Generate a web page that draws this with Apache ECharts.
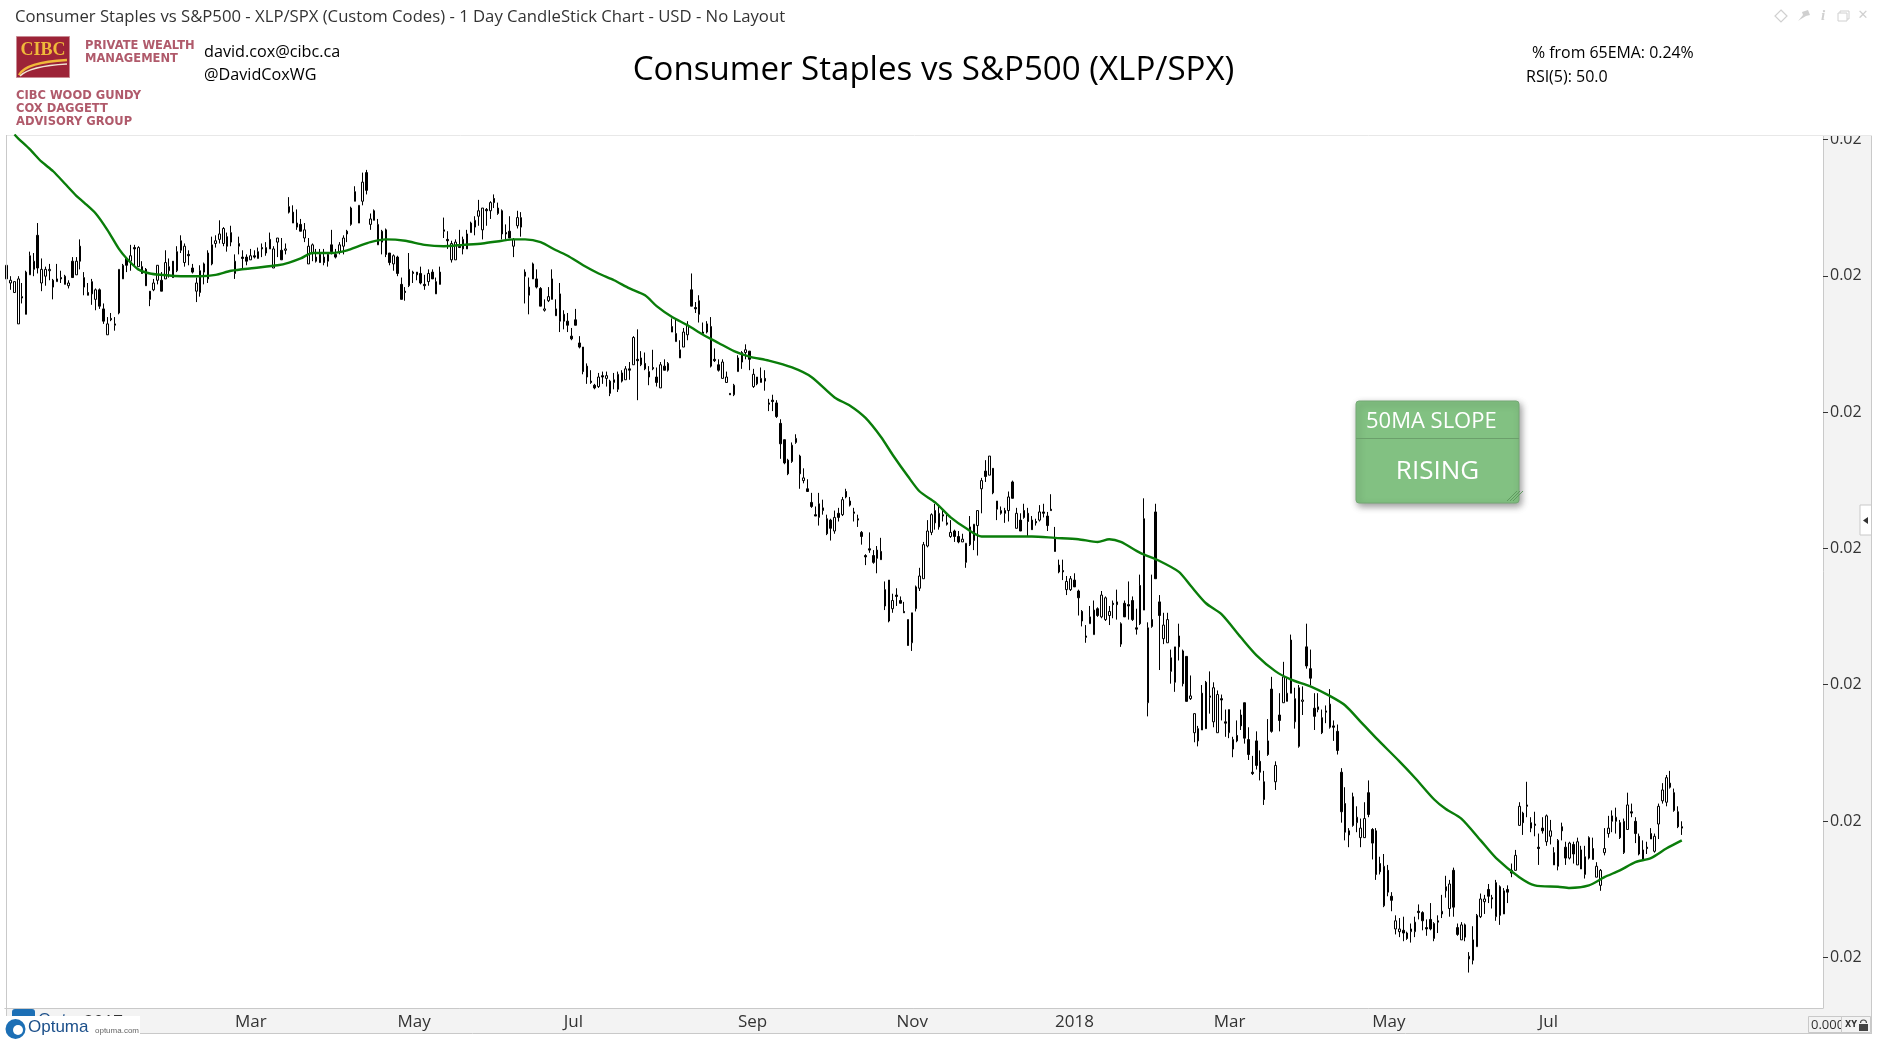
<!DOCTYPE html>
<html>
<head>
<meta charset="utf-8">
<title>Consumer Staples vs S&amp;P500 (XLP/SPX)</title>
<script src="https://cdn.jsdelivr.net/npm/echarts@6/dist/echarts.min.js"></script>
<style>
html, body { margin: 0; padding: 0; background: #fff; }
#chart { width: 1878px; height: 1041px; }
</style>
</head>
<body>
<div id="chart"></div>
<script>
// XLP/SPX ratio, daily bars, stored as ratio x 100000
const opens = [
2296,2293,2286,2263,2283,2270,2299,2303,2328,2293,
2298,2302,2295,2294,2297,2292,2291,2309,2299,2320,
2290,2286,2285,2281,2288,2274,2255,2267,2262,2271,
2296,2311,2309,2319,2305,2305,2303,2287,2288,2295,
2295,2296,2302,2309,2302,2317,2308,2314,2304,2287,
2286,2301,2296,2307,2322,2325,2322,2327,2323,2300,
2320,2312,2312,2310,2313,2311,2319,2315,2325,2304,
2323,2317,2317,2349,2345,2337,2336,2326,2307,2315,
2312,2314,2312,2309,2321,2314,2316,2320,2331,2336,
2360,2337,2353,2374,2336,2346,2321,2323,2332,2315,
2307,2312,2292,2287,2291,2301,2301,2300,2292,2294,
2301,2285,2301,2332,2325,2310,2310,2320,2318,2318,
2330,2334,2342,2332,2347,2346,2355,2344,2346,2330,
2331,2320,2335,2334,2301,2284,2307,2296,2289,2273,
2280,2296,2274,2285,2270,2265,2254,2266,2249,2246,
2232,2221,2218,2217,2225,2223,2212,2220,2215,2227,
2222,2230,2233,2237,2233,2234,2224,2231,2224,2216,
2232,2229,2261,2250,2238,2246,2255,2288,2275,2270,
2257,2263,2261,2237,2233,2223,2220,2212,2211,2228,
2235,2242,2243,2217,2219,2220,2223,2205,2207,2205,
2190,2178,2163,2162,2176,2166,2148,2142,2132,2123,
2121,2126,2120,2119,2111,2124,2123,2140,2130,2125,
2120,2110,2093,2098,2093,2097,2096,2068,2075,2054,
2064,2060,2052,2046,2029,2054,2069,2076,2100,2110,
2126,2114,2123,2117,2107,2111,2107,2103,2088,2101,
2104,2115,2142,2155,2152,2157,2127,2124,2126,2126,
2147,2113,2119,2126,2124,2119,2118,2119,2125,2122,
2127,2106,2086,2082,2068,2068,2075,2067,2052,2034,
2043,2035,2054,2048,2046,2049,2058,2059,2028,2058,
2057,2060,2040,2071,2120,1985,2046,2125,2059,2032,
2029,2008,2000,2026,2023,2019,1988,1963,1957,1992,
2000,1990,1971,1963,1988,1971,1963,1951,1961,1976,
1985,1958,1934,1957,1942,1927,1957,1995,1927,1976,
1985,1986,2031,1971,1953,1986,2026,2010,1981,1980,
1974,1978,1967,1968,1964,1934,1911,1891,1916,1897,
1886,1886,1919,1892,1891,1867,1836,1862,1843,1819,
1817,1818,1816,1817,1817,1832,1831,1820,1826,1812,
1825,1830,1847,1834,1862,1820,1811,1822,1797,1796,
1806,1828,1839,1848,1841,1828,1850,1830,1848,1862,
1862,1895,1904,1910,1893,1896,1879,1893,1883,1887,
1875,1865,1894,1879,1871,1881,1866,1877,1859,1871,
1878,1857,1851,1875,1889,1898,1898,1897,1875,1892,
1905,1898,1887,1877,1879,1889,1876,1896,1913,1912,
1926,1919,1905,1894
];
const closes = [
2306,2295,2294,2296,2282,2301,2313,2309,2304,2303,
2303,2303,2290,2296,2296,2298,2293,2297,2309,2309,
2297,2284,2294,2288,2276,2265,2263,2266,2263,2303,
2306,2306,2313,2318,2319,2300,2291,2281,2293,2306,
2287,2308,2305,2297,2316,2324,2320,2313,2301,2293,
2302,2307,2315,2321,2324,2329,2333,2320,2330,2309,
2322,2311,2309,2313,2312,2316,2318,2319,2318,2318,
2326,2310,2318,2345,2337,2334,2331,2332,2320,2321,
2309,2308,2308,2314,2316,2312,2321,2326,2329,2348,
2353,2350,2367,2361,2340,2339,2336,2331,2314,2308,
2313,2300,2281,2286,2303,2300,2299,2293,2291,2300,
2296,2294,2292,2331,2324,2322,2323,2319,2325,2329,
2337,2339,2346,2348,2346,2352,2352,2348,2329,2329,
2326,2325,2341,2341,2298,2290,2296,2290,2276,2274,
2283,2281,2269,2265,2265,2262,2252,2262,2246,2228,
2224,2220,2216,2224,2224,2225,2221,2222,2226,2221,
2230,2229,2253,2236,2238,2230,2228,2230,2220,2233,
2229,2234,2257,2256,2244,2257,2262,2276,2274,2280,
2256,2257,2232,2236,2229,2235,2224,2211,2218,2238,
2242,2244,2237,2226,2224,2223,2221,2204,2206,2195,
2175,2161,2153,2174,2179,2153,2150,2140,2129,2122,
2131,2128,2109,2113,2121,2121,2134,2136,2133,2124,
2119,2107,2092,2097,2088,2091,2090,2056,2045,2060,
2063,2058,2051,2027,2051,2070,2078,2101,2111,2123,
2117,2124,2122,2116,2110,2107,2103,2105,2102,2114,
2116,2126,2148,2151,2166,2139,2133,2126,2124,2136,
2135,2124,2111,2121,2118,2112,2117,2125,2124,2115,
2126,2096,2081,2081,2074,2076,2070,2062,2045,2033,
2048,2053,2049,2064,2062,2052,2057,2057,2043,2048,
2056,2046,2039,2043,2053,2040,2041,2076,2049,2042,
2046,2018,2026,2034,1999,1986,1990,1977,1966,1965,
1966,1989,1996,1991,1987,1970,1980,1958,1957,1968,
1959,1947,1933,1939,1934,1914,1947,1964,1939,1972,
2004,1992,1992,1988,1996,1987,2012,2003,1975,1982,
1963,1979,1984,1967,1950,1905,1890,1888,1895,1901,
1893,1900,1903,1882,1859,1861,1865,1846,1840,1825,
1819,1816,1812,1819,1824,1831,1825,1819,1819,1823,
1824,1832,1850,1852,1835,1815,1822,1813,1799,1811,
1829,1841,1841,1843,1842,1853,1829,1847,1846,1860,
1873,1909,1897,1909,1897,1895,1878,1891,1902,1891,
1866,1884,1891,1871,1882,1874,1883,1863,1872,1886,
1870,1865,1862,1878,1893,1902,1901,1886,1898,1910,
1904,1889,1874,1870,1878,1885,1887,1909,1921,1930,
1923,1906,1894,1893
];
const lows = [
2296,2288,2286,2263,2278,2270,2299,2298,2300,2287,
2291,2295,2281,2294,2293,2292,2289,2297,2299,2303,
2284,2284,2277,2273,2274,2263,2255,2265,2258,2270,
2296,2301,2302,2305,2305,2300,2291,2276,2287,2292,
2287,2296,2297,2297,2301,2315,2305,2306,2300,2279,
2283,2292,2293,2306,2319,2322,2320,2316,2320,2296,
2314,2303,2306,2310,2311,2311,2312,2313,2318,2304,
2312,2310,2314,2344,2337,2332,2331,2323,2307,2309,
2308,2308,2306,2305,2314,2311,2314,2314,2323,2335,
2353,2337,2350,2358,2332,2339,2321,2314,2312,2306,
2302,2298,2281,2280,2290,2293,2295,2292,2288,2291,
2296,2285,2292,2326,2318,2308,2310,2319,2314,2318,
2330,2328,2335,2325,2335,2340,2348,2343,2325,2325,
2326,2312,2333,2327,2278,2270,2296,2289,2276,2272,
2279,2281,2269,2257,2259,2257,2251,2262,2245,2226,
2219,2219,2215,2216,2219,2217,2210,2215,2213,2220,
2222,2222,2233,2207,2232,2229,2218,2229,2217,2216,
2229,2228,2257,2250,2238,2246,2251,2276,2271,2264,
2256,2256,2231,2235,2228,2223,2220,2211,2210,2228,
2230,2237,2229,2216,2218,2220,2214,2199,2199,2194,
2164,2160,2152,2161,2175,2142,2146,2140,2128,2122,
2115,2123,2108,2104,2109,2118,2122,2135,2129,2118,
2114,2101,2086,2095,2087,2080,2090,2053,2044,2051,
2056,2058,2051,2027,2023,2052,2067,2076,2099,2108,
2112,2112,2118,2115,2106,2103,2102,2103,2084,2100,
2097,2093,2124,2147,2152,2138,2119,2123,2117,2118,
2135,2113,2111,2120,2107,2112,2115,2118,2121,2111,
2126,2096,2080,2075,2064,2067,2070,2049,2041,2029,
2043,2035,2048,2047,2045,2042,2047,2046,2026,2048,
2046,2045,2035,2042,2053,1975,2040,2076,2009,2028,
2029,1999,1993,2016,1997,1986,1987,1956,1953,1965,
1966,1977,1967,1963,1972,1960,1959,1945,1956,1965,
1955,1943,1932,1936,1928,1910,1946,1963,1921,1964,
1985,1986,1992,1966,1952,1976,2010,1998,1965,1978,
1962,1970,1966,1957,1947,1897,1884,1879,1894,1890,
1879,1886,1901,1870,1855,1859,1835,1843,1832,1815,
1813,1810,1811,1809,1813,1826,1818,1814,1818,1810,
1816,1827,1842,1828,1828,1814,1811,1810,1787,1793,
1806,1827,1830,1838,1834,1825,1822,1830,1838,1857,
1862,1895,1888,1901,1890,1887,1866,1889,1880,1881,
1866,1862,1884,1866,1870,1867,1866,1863,1856,1870,
1870,1857,1847,1873,1886,1890,1889,1885,1874,1892,
1901,1882,1873,1870,1874,1885,1875,1885,1911,1909,
1922,1905,1893,1888
];
const highs = [
2306,2298,2294,2298,2293,2302,2316,2315,2337,2311,
2305,2307,2296,2307,2302,2299,2295,2312,2312,2325,
2301,2293,2296,2289,2289,2278,2268,2271,2268,2303,
2307,2312,2321,2321,2320,2309,2304,2287,2296,2306,
2301,2317,2311,2309,2320,2328,2322,2317,2307,2297,
2306,2308,2317,2327,2328,2339,2334,2330,2335,2314,
2327,2317,2314,2318,2317,2319,2322,2323,2330,2320,
2326,2326,2322,2356,2350,2347,2340,2337,2326,2322,
2318,2318,2318,2315,2332,2318,2323,2328,2332,2349,
2364,2350,2374,2376,2344,2347,2340,2332,2333,2315,
2314,2313,2297,2290,2315,2302,2301,2305,2299,2303,
2303,2297,2305,2341,2331,2324,2325,2332,2327,2332,
2338,2342,2354,2348,2348,2353,2358,2352,2347,2336,
2342,2326,2346,2345,2303,2297,2308,2303,2290,2281,
2290,2303,2281,2293,2273,2271,2260,2274,2254,2246,
2234,2229,2219,2227,2228,2228,2222,2227,2228,2229,
2232,2235,2254,2259,2243,2242,2232,2244,2231,2235,
2237,2235,2267,2266,2251,2260,2265,2300,2279,2284,
2264,2265,2268,2245,2237,2237,2228,2212,2219,2240,
2243,2248,2243,2230,2224,2231,2229,2208,2211,2207,
2193,2178,2164,2176,2182,2167,2157,2149,2139,2129,
2139,2134,2123,2120,2126,2128,2136,2142,2136,2128,
2123,2111,2094,2110,2097,2100,2106,2074,2075,2065,
2069,2063,2059,2046,2051,2071,2084,2103,2119,2124,
2131,2130,2126,2123,2119,2112,2111,2109,2102,2122,
2116,2126,2150,2163,2166,2157,2133,2129,2128,2140,
2148,2128,2124,2131,2128,2122,2120,2130,2131,2125,
2138,2114,2090,2090,2078,2078,2080,2068,2053,2042,
2056,2060,2055,2067,2063,2056,2060,2068,2044,2060,
2074,2063,2054,2079,2135,2044,2079,2131,2064,2051,
2051,2024,2026,2043,2024,2019,2005,1977,1968,1998,
2001,2008,2000,1994,1991,1980,1980,1960,1972,1980,
1985,1967,1946,1964,1950,1935,1973,2004,1942,1992,
2015,2003,2035,1996,1998,1997,2043,2024,1992,1992,
1980,1983,1995,1972,1969,1937,1923,1893,1919,1909,
1900,1912,1928,1893,1893,1872,1874,1866,1846,1829,
1827,1828,1817,1823,1828,1837,1832,1826,1838,1824,
1829,1844,1858,1855,1864,1823,1824,1823,1802,1821,
1830,1845,1844,1852,1844,1855,1851,1849,1851,1867,
1877,1912,1905,1927,1901,1905,1889,1901,1903,1899,
1879,1885,1897,1883,1883,1883,1886,1880,1880,1887,
1886,1868,1863,1893,1902,1906,1908,1899,1900,1919,
1911,1901,1889,1884,1883,1893,1889,1911,1926,1932,
1935,1922,1909,1898
];

// moving average, read at these bar numbers and joined with straight runs
const ma50Bars = [2,3,6,9,12,15,18,20,23,26,29,31,34,37,40,45,50,54,58,64,70,73,76,79,84,88,91,94,98,103,108,113,118,123,128,131,134,138,142,145,149,153,157,161,165,168,172,176,180,184,188,192,197,203,208,214,218,222,226,229,233,236,240,244,248,252,258,265,271,277,282,285,288,293,298,303,306,310,314,319,323,328,332,337,342,346,350,354,360,364,369,372,376,381,385,391,395,401,404,409,413,417,421,425,429,433];
const ma50Values = [2402,2399,2391,2382,2375,2366,2357,2352,2344,2332,2318,2311,2303,2300,2299,2298,2298,2299,2302,2304,2306,2308,2311,2315,2315,2317,2320,2323,2325,2324,2321,2320,2321,2322,2324,2325,2325,2323,2317,2313,2306,2300,2295,2289,2284,2276,2268,2262,2255,2249,2243,2239,2236,2231,2224,2209,2203,2194,2180,2167,2151,2140,2132,2121,2113,2107,2107,2107,2106,2105,2103,2105,2103,2095,2089,2081,2071,2058,2050,2033,2020,2008,2002,1997,1990,1983,1971,1959,1942,1930,1914,1907,1900,1884,1871,1857,1851,1850,1849,1851,1857,1862,1868,1871,1878,1884];

// the axis has a band for every bar plus the empty room to the right
const barCount = 470;
const monthLabels = ['2017', 'Mar', 'May', 'Jul', 'Sep', 'Nov', '2018', 'Mar', 'May', 'Jul'];
const monthBars = [20, 59, 101, 144, 189, 230, 271, 312, 353, 396];
// every tick prints as 0.02, the values are estimated from their spacing
const yTicks = [0.017982, 0.018982, 0.019982, 0.020982, 0.021982, 0.022982, 0.023982];

const categories = [];
for (let i = 0; i < barCount; i++) {
    const m = monthBars.indexOf(i);
    categories.push(m >= 0 ? monthLabels[m] : '');
}

const candles = opens.map((o, i) => [o / 1e5, closes[i] / 1e5, lows[i] / 1e5, highs[i] / 1e5]);
const ma50 = ma50Bars.map((b, i) => [b, ma50Values[i] / 1e5]);

const FONT = '"Open Sans", "Noto Sans", sans-serif';
const WIDE = 'bold 11.5px "DejaVu Sans", sans-serif';
const GREY = '#c9c9c9';
const WINE = '#b05a6b';

function label(x, y, text, size, color, extra) {
    return {
        type: 'text', z: 30, silent: true,
        style: Object.assign({ x, y, text, fill: color, font: size + 'px ' + FONT, textVerticalAlign: 'middle' }, extra || {})
    };
}
function box(x, y, width, height, fill, extra) {
    return Object.assign({
        type: 'rect', z: 30, silent: true,
        shape: { x, y, width, height },
        style: { fill }
    }, extra || {});
}
function rule(x1, y1, x2, y2, color, z) {
    return { type: 'line', z: z === undefined ? 30 : z, silent: true, shape: { x1, y1, x2, y2 }, style: { stroke: color, lineWidth: 1 } };
}
function corner(x, y) {
    return { type: 'line', z: 32, silent: true, shape: { x1: x, y1: y, x2: x + 10, y2: y - 10 }, style: { stroke: '#5f9a5f', lineWidth: 1 } };
}

const elements = [
    // panels behind the axes
    box(6, 1008, 1866, 25, '#f3f3f3', { z: -2 }),
    box(1823, 135, 49, 873, '#f3f3f3', { z: -2 }),
    rule(6.5, 135, 6.5, 1033, GREY, 5),
    rule(6, 135.5, 1823, 135.5, '#e8e8e8', -1),
    rule(6, 1033.5, 1872, 1033.5, GREY, -1),
    rule(1871.5, 135, 1871.5, 1033, GREY, -1),

    // the top axis label is cut by the header
    box(1823, 112, 55, 23, '#fff', { z: 20 }),
    rule(1823, 135.5, 1872, 135.5, '#e8e8e8', 21),

    // header
    label(15, 17, 'Consumer Staples vs S&P500 - XLP/SPX (Custom Codes) - 1 Day CandleStick Chart - USD - No Layout', 16.7, '#333'),
    label(933.5, 70.5, 'Consumer Staples vs S&P500 (XLP/SPX)', 33.1, '#000', { textAlign: 'center' }),
    label(204, 52, 'david.cox@cibc.ca', 16.2, '#000'),
    label(204, 75, '@DavidCoxWG', 16.2, '#000'),
    label(1532, 53, '% from 65EMA: 0.24%', 15.9, '#000'),
    label(1526, 77, 'RSI(5): 50.0', 16, '#000'),

    // CIBC logo
    box(16.5, 36.5, 53, 41, '#9c2337', { style: { fill: '#9c2337', stroke: '#c98a93', lineWidth: 1 } }),
    { type: 'text', z: 31, silent: true, style: { x: 43, y: 50, text: 'CIBC', fill: '#f0b93a', font: 'bold 18px "Liberation Serif", serif', textAlign: 'center', textVerticalAlign: 'middle' } },
    { type: 'bezierCurve', z: 31, silent: true, shape: { x1: 19, y1: 75, x2: 67, y2: 60, cpx1: 26, cpy1: 62 }, style: { stroke: '#f0b93a', lineWidth: 2.5, fill: 'none' } },
    { type: 'bezierCurve', z: 31, silent: true, shape: { x1: 20, y1: 76, x2: 67, y2: 64, cpx1: 30, cpy1: 66 }, style: { stroke: '#f2e7d5', lineWidth: 1.5, fill: 'none' } },
    label(85, 46, 'PRIVATE WEALTH', 11, WINE, { font: WIDE }),
    label(85, 59, 'MANAGEMENT', 11, WINE, { font: WIDE }),
    label(16, 96, 'CIBC WOOD GUNDY', 11, WINE, { font: WIDE }),
    label(16, 109, 'COX DAGGETT', 11, WINE, { font: WIDE }),
    label(16, 122, 'ADVISORY GROUP', 11, WINE, { font: WIDE }),

    // window buttons
    { type: 'polygon', z: 30, silent: true, shape: { points: [[1781, 10], [1787, 16], [1781, 22], [1775, 16]] }, style: { fill: 'none', stroke: '#d0d0d0', lineWidth: 1.2 } },
    { type: 'polygon', z: 30, silent: true, shape: { points: [[1798, 21], [1803, 15], [1802, 12], [1808, 10], [1810, 15], [1806, 16], [1801, 19]] }, style: { fill: '#d0d0d0' } },
    { type: 'text', z: 30, silent: true, style: { x: 1823, y: 16, text: 'i', fill: '#d0d0d0', font: 'italic bold 15px "Liberation Serif", serif', textAlign: 'center', textVerticalAlign: 'middle' } },
    box(1840, 11, 9, 8, '#fff', { style: { fill: '#fff', stroke: '#d0d0d0', lineWidth: 1 } }),
    box(1838, 13, 9, 8, '#fff', { z: 31, style: { fill: '#fff', stroke: '#d0d0d0', lineWidth: 1 } }),
    { type: 'text', z: 30, silent: true, style: { x: 1863, y: 16, text: '\u2715', fill: '#d0d0d0', font: 'bold 13px "DejaVu Sans", sans-serif', textAlign: 'center', textVerticalAlign: 'middle' } },

    // side collapse button
    box(1860, 505, 11.5, 30, '#fff', { style: { fill: '#fff', stroke: GREY, lineWidth: 1 } }),
    { type: 'polygon', z: 31, silent: true, shape: { points: [[1868, 517], [1863, 520.5], [1868, 524]] }, style: { fill: '#333' } },

    // 50MA slope box
    box(1356, 401, 163, 102, '#82c182', { shape: { x: 1356, y: 401, width: 163, height: 102, r: 3 }, style: { fill: '#82c182', stroke: '#74a874', lineWidth: 1, shadowBlur: 7, shadowColor: 'rgba(0,0,0,0.4)', shadowOffsetX: 2, shadowOffsetY: 3 } }),
    rule(1356, 438.5, 1519, 438.5, '#6b9f6b'),
    Object.assign(label(1366, 421.5, '50MA SLOPE', 22, '#fff'), { z: 32 }),
    Object.assign(label(1437.5, 471.5, 'RISING', 26, '#fff', { textAlign: 'center' }), { z: 32 }),
    corner(1507, 501), corner(1510, 501), corner(1513, 501),

    // zoom value and XY lock
    box(1808.5, 1016.5, 33, 16, '#f3f3f3', { style: { fill: '#f3f3f3', stroke: GREY, lineWidth: 1 } }),
    label(1811, 1025, '0.0000', 13, '#333'),
    box(1841.5, 1016.5, 29, 16, '#f3f3f3', { z: 31, style: { fill: '#f3f3f3', stroke: GREY, lineWidth: 1 } }),
    { type: 'text', z: 32, silent: true, style: { x: 1845, y: 1025, text: 'XY', fill: '#333', font: 'bold 8px "DejaVu Sans", sans-serif', textVerticalAlign: 'middle' } },
    box(1859, 1024, 9, 7, '#444', { z: 32 }),
    { type: 'arc', z: 32, silent: true, shape: { cx: 1863.5, cy: 1023, r: 3, startAngle: Math.PI, endAngle: 0 }, style: { stroke: '#444', fill: 'none', lineWidth: 1.2 } },

    // Optuma badge, with the copy underneath peeking out at the top
    box(12, 1009, 23, 10, '#1c6fb5', { z: 22, shape: { x: 12, y: 1009, width: 23, height: 10, r: 3 } }),
    Object.assign(label(38, 1020, 'Opt', 17, '#1b4f8a'), { z: 22 }),
    box(5, 1016, 135, 25, '#fff', { z: 24 }),
    { type: 'circle', z: 30, silent: true, shape: { cx: 15.5, cy: 1029, r: 10 }, style: { fill: '#1c6fb5' } },
    { type: 'circle', z: 31, silent: true, shape: { cx: 18, cy: 1030, r: 5 }, style: { fill: '#fff' } },
    label(28, 1027, 'Optuma', 17, '#1b4f8a', { font: '17px "Liberation Sans", sans-serif' }),
    label(95, 1031, 'optuma.com', 8, '#666', { font: '8px "Liberation Sans", sans-serif' })
];

const chart = echarts.init(document.getElementById('chart'), null, { renderer: 'canvas' });
chart.setOption({
    animation: false,
    backgroundColor: '#fff',
    grid: { left: 4.8, right: 55, top: 135, bottom: 33 },
    xAxis: {
        type: 'category',
        data: categories,
        boundaryGap: true,
        axisLine: { lineStyle: { color: GREY } },
        axisTick: {
            interval: (i) => monthBars.indexOf(i) >= 0,
            length: 25,
            lineStyle: { color: GREY }
        },
        axisLabel: {
            interval: (i) => monthBars.indexOf(i) >= 0,
            align: 'left',
            margin: 6,
            fontFamily: FONT,
            fontSize: 17,
            color: '#333'
        },
        splitLine: { show: false }
    },
    yAxis: {
        type: 'value',
        position: 'right',
        min: 0.01761,
        max: 0.024016,
        axisLine: { show: true, lineStyle: { color: GREY } },
        axisTick: { show: true, customValues: yTicks, length: 5, lineStyle: { color: '#333' } },
        axisLabel: {
            customValues: yTicks,
            formatter: (v) => v.toFixed(2),
            margin: 7,
            fontFamily: FONT,
            fontSize: 16,
            color: '#333'
        },
        splitLine: { show: false }
    },
    series: [
        {
            type: 'candlestick',
            data: candles,
            barWidth: 2,
            itemStyle: {
                color: '#fff',
                color0: '#000',
                borderColor: '#000',
                borderColor0: '#000',
                borderColorDoji: '#000',
                borderWidth: 1
            }
        },
        {
            type: 'line',
            data: ma50,
            smooth: 0.25,
            showSymbol: false,
            z: 5,
            lineStyle: { color: '#0a7d0a', width: 2.4 }
        }
    ],
    graphic: { elements }
});
</script>
</body>
</html>
